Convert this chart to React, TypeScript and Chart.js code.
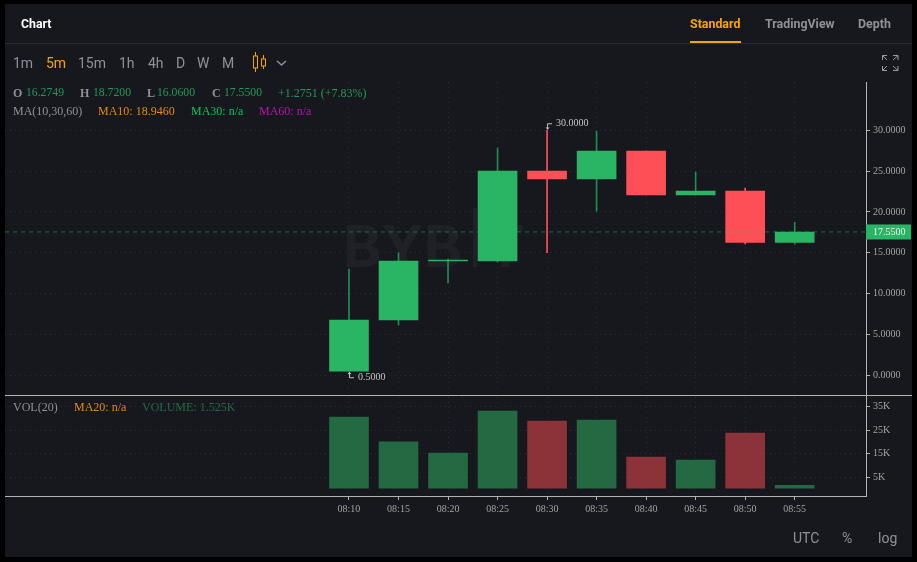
import { useEffect, useRef } from "react";
import { Chart, registerables } from "chart.js";

Chart.register(...registerables);

const minutes = [10, 15, 20, 25, 30, 35, 40, 45, 50, 55];
const timeLabels = ["08:10", "08:15", "08:20", "08:25", "08:30", "08:35", "08:40", "08:45", "08:50", "08:55"];
const opens = [0.5, 6.77, 14.0, 14.0, 25.0, 24.05, 27.46, 22.08, 22.57, 16.2749];
const highs = [13.0, 15.0, 14.24, 27.83, 30.0, 29.9, 27.46, 24.88, 22.93, 18.72];
const lows = [0.5, 6.15, 11.3, 13.87, 15.0, 20.1, 22.08, 22.08, 16.1, 16.06];
const closes = [6.77, 14.0, 14.1, 25.0, 24.05, 27.46, 22.08, 22.57, 16.27, 17.55];
const volumes = [30600, 20000, 15300, 33150, 28900, 29300, 13600, 12300, 23800, 1525];
const priceTicks = [0, 5, 10, 15, 20, 25, 30];
const volumeTicks = [5000, 15000, 25000, 35000];
const lastPrice = 17.55;
const highMark = { minute: 30, price: 30 };
const lowMark = { minute: 10, price: 0.5 };

const GREEN = "#2ab564";
const WICK_GREEN = "#1f8f50";
const RED = "#ff4f56";
const VOL_GREEN = "#236a43";
const VOL_RED = "#8b3338";
const GRID = "#2a2c33";
const AXIS = "#b4b4b4";
const TICK_TEXT = "#a3a3a3";
const SERIF = '"Liberation Serif"';

const isUp = (i: number) => closes[i] >= opens[i];

const overlayPlugin = {
    id: "overlay",
    beforeDatasetsDraw(chart: any) {
        const { ctx } = chart;
        ctx.save();
        ctx.fillStyle = "#202127";
        ctx.textBaseline = "alphabetic";
        ctx.font = 'bold 58px "Inter"';
        ctx.fillText("BYB", 343, 267);
        ctx.fillRect(473, 208, 4, 59);
        ctx.fillText("T", 486, 267);
        ctx.restore();
    },
    afterDraw(chart: any) {
        const { ctx, scales, chartArea, width } = chart;
        const { x, price, volume } = scales;
        ctx.save();

        ctx.strokeStyle = AXIS;
        ctx.lineWidth = 1;
        ctx.beginPath();
        ctx.moveTo(chartArea.left, Math.round(volume.top) + 0.5);
        ctx.lineTo(width - 5, Math.round(volume.top) + 0.5);
        ctx.stroke();

        const lastY = price.getPixelForValue(lastPrice);
        ctx.fillStyle = GREEN;
        ctx.fillRect(chartArea.right, lastY - 7.5, 45, 15);
        ctx.fillStyle = "#f0f0f0";
        ctx.font = `10px ${SERIF}`;
        ctx.textBaseline = "middle";
        ctx.fillText(lastPrice.toFixed(4), chartArea.right + 7, lastY);

        ctx.fillStyle = "#c4c4c4";
        ctx.strokeStyle = "#c4c4c4";
        const hx = x.getPixelForValue(highMark.minute);
        const hy = price.getPixelForValue(highMark.price);
        ctx.fillText(highMark.price.toFixed(4), hx + 9, hy - 7);
        ctx.beginPath();
        ctx.moveTo(hx + 5, hy - 6.5);
        ctx.lineTo(hx + 0.5, hy - 6.5);
        ctx.lineTo(hx + 0.5, hy - 1);
        ctx.moveTo(hx - 1, hy - 3);
        ctx.lineTo(hx + 0.5, hy - 1);
        ctx.lineTo(hx + 2, hy - 3);
        ctx.stroke();

        const lx = x.getPixelForValue(lowMark.minute);
        const ly = price.getPixelForValue(lowMark.price);
        ctx.fillText(lowMark.price.toFixed(4), lx + 9, ly + 6);
        ctx.beginPath();
        ctx.moveTo(lx + 5, ly + 6.5);
        ctx.lineTo(lx + 0.5, ly + 6.5);
        ctx.lineTo(lx + 0.5, ly + 1);
        ctx.moveTo(lx - 1, ly + 3);
        ctx.lineTo(lx + 0.5, ly + 1);
        ctx.lineTo(lx + 2, ly + 3);
        ctx.stroke();

        ctx.restore();
    },
};

function Txt({ x, y, color, size = 12, family = SERIF, weight = 400, children }: any) {
    return (
        <span
            style={{
                position: "absolute",
                left: x,
                top: y,
                transform: "translateY(-50%)",
                color,
                fontSize: size,
                fontFamily: family,
                fontWeight: weight,
                lineHeight: 1,
                whiteSpace: "nowrap",
            }}
        >
            {children}
        </span>
    );
}

export default function App() {
    const chartRef = useRef<HTMLCanvasElement | null>(null);

    useEffect(() => {
        if (!chartRef.current) return;

        const chart = new Chart(chartRef.current, {
            type: "bar",
            data: {
                datasets: [
                    {
                        type: "line",
                        data: [
                            { x: -24.73, y: lastPrice },
                            { x: 62.2, y: lastPrice },
                        ],
                        yAxisID: "price",
                        borderColor: "rgba(45,184,102,0.5)",
                        borderWidth: 1,
                        borderDash: [4, 4],
                        pointRadius: 0,
                        order: 0,
                    },
                    {
                        data: minutes.map((m, i) => ({ x: m, y: [opens[i], closes[i]] })),
                        yAxisID: "price",
                        backgroundColor: minutes.map((_, i) => (isUp(i) ? GREEN : RED)),
                        barThickness: 39,
                        grouped: false,
                        order: 1,
                    },
                    {
                        data: minutes.map((m, i) => ({ x: m, y: [lows[i], highs[i]] })),
                        yAxisID: "price",
                        backgroundColor: minutes.map((_, i) => (isUp(i) ? WICK_GREEN : RED)),
                        barThickness: 1,
                        grouped: false,
                        order: 2,
                    },
                    {
                        data: minutes.map((m, i) => ({ x: m, y: volumes[i] })),
                        yAxisID: "volume",
                        backgroundColor: minutes.map((_, i) => (isUp(i) ? VOL_GREEN : VOL_RED)),
                        barThickness: 39,
                        base: 400,
                        grouped: false,
                        order: 3,
                    },
                ] as any,
            },
            options: {
                responsive: false,
                animation: false,
                layout: { padding: { left: 5, top: 82, right: 5, bottom: 5 } },
                plugins: { legend: { display: false }, tooltip: { enabled: false } },
                scales: {
                    x: {
                        type: "linear",
                        offset: false,
                        min: -24.73,
                        max: 62.2,
                        afterBuildTicks: (scale: any) => {
                            scale.ticks = minutes.map((value) => ({ value }));
                        },
                        afterFit: (scale: any) => {
                            scale.height = 61;
                        },
                        grid: { offset: false, color: GRID, tickColor: AXIS, tickBorderDash: [], tickLength: 4 },
                        border: { color: AXIS, dash: [1, 4] },
                        ticks: {
                            autoSkip: false,
                            maxRotation: 0,
                            padding: 3,
                            color: TICK_TEXT,
                            font: { family: SERIF, size: 10 },
                            callback: (v: any) => timeLabels[minutes.indexOf(v)],
                        },
                    },
                    price: {
                        type: "linear",
                        position: "right",
                        stack: "panes",
                        stackWeight: 313,
                        weight: 0,
                        min: -2.41,
                        max: 35.91,
                        afterBuildTicks: (scale: any) => {
                            scale.ticks = priceTicks.map((value) => ({ value }));
                        },
                        afterFit: (scale: any) => {
                            scale.width = 46;
                        },
                        grid: { color: GRID, tickColor: AXIS, tickBorderDash: [], tickLength: 4 },
                        border: { color: AXIS, dash: [1, 4] },
                        ticks: {
                            padding: 3,
                            color: TICK_TEXT,
                            font: { family: SERIF, size: 10 },
                            callback: (v: any) => Number(v).toFixed(4),
                        },
                    },
                    volume: {
                        type: "linear",
                        position: "right",
                        stack: "panes",
                        stackWeight: 101,
                        weight: 1,
                        min: -2970,
                        max: 39950,
                        afterBuildTicks: (scale: any) => {
                            scale.ticks = volumeTicks.map((value) => ({ value }));
                        },
                        afterFit: (scale: any) => {
                            scale.width = 46;
                        },
                        grid: { color: GRID, tickColor: AXIS, tickBorderDash: [], tickLength: 4 },
                        border: { color: AXIS, dash: [1, 4] },
                        ticks: {
                            padding: 3,
                            color: TICK_TEXT,
                            font: { family: SERIF, size: 10 },
                            callback: (v: any) => `${Number(v) / 1000}K`,
                        },
                    },
                },
            } as any,
            plugins: [overlayPlugin],
        });

        return () => {
            chart.destroy();
        };
    }, []);

    const sans = '"Roboto"';
    const grey = "#8f9197";
    const orange = "#f7a600";
    const legendGreen = "#22995a";

    return (
        <div style={{ position: "fixed", left: 0, top: 0, width: 917, height: 562, background: "#000", overflow: "hidden" }}>
            <div style={{ position: "absolute", left: 5, top: 4, width: 907, height: 553, background: "#17181e" }} />
            <canvas ref={chartRef} width={917} height={562} style={{ position: "absolute", left: 0, top: 0 }} />
            <div style={{ position: "absolute", left: 5, top: 43, width: 907, height: 1, background: "#2b2d33" }} />
            <div style={{ position: "absolute", left: 690, top: 41, width: 51, height: 2, background: orange }} />

            <Txt x={21} y={24} color="#fff" size={12.3} family={sans} weight={700}>Chart</Txt>
            <Txt x={690} y={24} color={orange} size={12.4} family={sans} weight={700}>Standard</Txt>
            <Txt x={765} y={24} color={grey} size={12.4} family={sans} weight={700}>TradingView</Txt>
            <Txt x={858} y={24} color={grey} size={12.4} family={sans} weight={700}>Depth</Txt>

            <Txt x={13} y={63} color={grey} size={14} family={sans}>1m</Txt>
            <Txt x={46} y={63} color={orange} size={14} family={sans}>5m</Txt>
            <Txt x={78} y={63} color={grey} size={14} family={sans}>15m</Txt>
            <Txt x={119} y={63} color={grey} size={14} family={sans}>1h</Txt>
            <Txt x={148} y={63} color={grey} size={14} family={sans}>4h</Txt>
            <Txt x={176} y={63} color={grey} size={14} family={sans}>D</Txt>
            <Txt x={197} y={63} color={grey} size={14} family={sans}>W</Txt>
            <Txt x={222} y={63} color={grey} size={14} family={sans}>M</Txt>

            <svg width={917} height={80} style={{ position: "absolute", left: 0, top: 0 }} fill="none">
                <g stroke={orange} strokeWidth={1}>
                    <rect x={253.5} y={56} width={4} height={12} />
                    <path d="M255.5 52V56M255.5 68V72" />
                    <rect x={261.5} y={59} width={4} height={7} />
                    <path d="M263.5 55V59M263.5 66V69" />
                </g>
                <path d="M277 61L281.5 65L286 61" stroke={grey} strokeWidth={1.5} />
                <g stroke="#9a9ca1" strokeWidth={1}>
                    <path d="M882.5 60V55.5H887M882.5 55.5L887 60" />
                    <path d="M898 60V55.5H893M898 55.5L893 60" />
                    <path d="M882.5 66V70.5H887M882.5 70.5L887 66" />
                    <path d="M898 66V70.5H893M898 70.5L893 66" />
                </g>
            </svg>

            <Txt x={13} y={93} color={grey} weight={700}>O</Txt>
            <Txt x={26} y={93} color={legendGreen} size={11.7}>16.2749</Txt>
            <Txt x={80} y={93} color={grey} weight={700}>H</Txt>
            <Txt x={93} y={93} color={legendGreen} size={11.7}>18.7200</Txt>
            <Txt x={147} y={93} color={grey} weight={700}>L</Txt>
            <Txt x={157} y={93} color={legendGreen} size={11.7}>16.0600</Txt>
            <Txt x={212} y={93} color={grey} weight={700}>C</Txt>
            <Txt x={224} y={93} color={legendGreen} size={11.7}>17.5500</Txt>
            <Txt x={278} y={93} color={legendGreen}>+1.2751 (+7.83%)</Txt>

            <Txt x={13} y={111} color={grey}>MA(10,30,60)</Txt>
            <Txt x={98} y={111} color="#e88a0c">MA10: 18.9460</Txt>
            <Txt x={191} y={111} color="#08c45e">MA30: n/a</Txt>
            <Txt x={259} y={111} color="#c011b0">MA60: n/a</Txt>

            <Txt x={13} y={407} color={grey}>VOL(20)</Txt>
            <Txt x={74} y={407} color="#e88a0c">MA20: n/a</Txt>
            <Txt x={142} y={407} color={VOL_GREEN}>VOLUME: 1.525K</Txt>

            <Txt x={793} y={538} color={grey} size={14} family={sans}>UTC</Txt>
            <Txt x={842} y={538} color={grey} size={14} family={sans}>%</Txt>
            <Txt x={878} y={538} color={grey} size={14} family={sans}>log</Txt>
        </div>
    );
}
